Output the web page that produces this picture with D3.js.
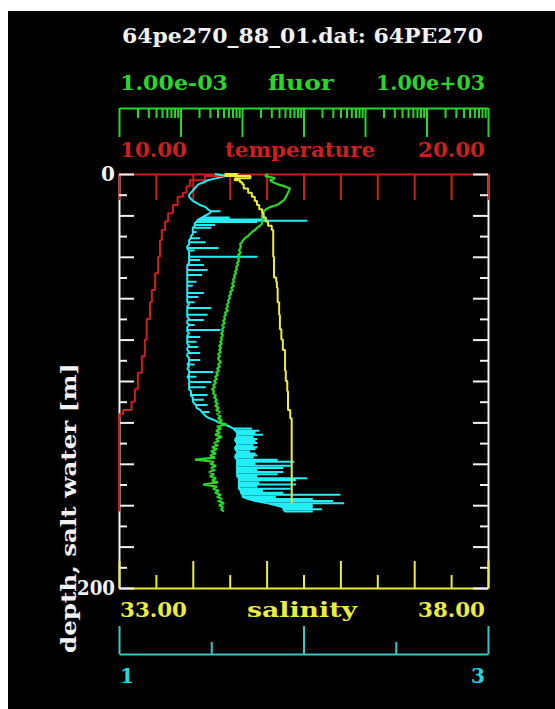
<!DOCTYPE html>
<html>
<head>
<meta charset="utf-8">
<script src="https://cdn.jsdelivr.net/npm/d3@7"></script>
<style>
  body { margin: 0; background: #fff; }
  svg text { font-family: "DejaVu Serif", serif; font-weight: bold; font-size: 20px; }
</style>
</head>
<body>
<div id="d3-container"></div>
<script>
// profile 64pe270_88_01: depth [m] against four sensors
const tempDepth  = [0,1,3,6,9,11,15,19,23,27,32,40,48,56,62,70,80,88,96,104,110,114,116,118,119,130,145,163];
const tempValues = [13.28,13.06,12.33,11.92,11.83,11.73,11.59,11.46,11.33,11.25,11.16,11.11,11.06,10.98,10.89,10.84,10.75,10.70,10.62,10.51,10.43,10.34,10.11,10.02,9.95,9.85,9.8,9.78];

const salDepth  = [0,1,2,3,4,5,7,9,11,13,15,17,19,21,23,25,27,28,40,50,52,55,62,68,75,80,85,95,100,105,114,118,119,159];
const salValues = [34.61,34.44,34.78,34.57,34.64,34.67,34.69,34.75,34.80,34.84,34.87,34.90,34.94,34.96,34.99,35.02,35.07,35.09,35.09,35.10,
                   35.13,35.14,35.15,35.17,35.18,35.20,35.22,35.25,35.26,35.28,35.29,35.32,35.34,35.34];

// 1 m bins for the two noisy sensors
const profileDepth = [
  0,1,2,3,4,5,6,7,8,9, 10,11,12,13,14,15,16,17,18,19, 20,21,22,23,24,25,26,27,28,29,
  30,31,32,33,34,35,36,37,38,39, 40,41,42,43,44,45,46,47,48,49, 50,51,52,53,54,55,56,57,58,59,
  60,61,62,63,64,65,66,67,68,69, 70,71,72,73,74,75,76,77,78,79, 80,81,82,83,84,85,86,87,88,89,
  90,91,92,93,94,95,96,97,98,99, 100,101,102,103,104,105,106,107,108,109, 110,111,112,113,114,115,116,117,118,119,
  120,121,122,123,124,125,126,127,128,129, 130,131,132,133,134,135,136,137,138,139,
  140,141,142,143,144,145,146,147,148,149, 150,151,152,153,154,155,156,157,158,159, 160,161,162,163
];

// cyan sensor: background trace plus the single-sample excursions
const cyanBase = [
  1.52,1.58,1.53,1.48,1.46,1.43,1.42,1.41,1.40,1.39,
  1.38,1.38,1.39,1.40,1.42,1.44,1.47,1.48,1.50,1.49,
  1.47,1.45,1.43,1.42,1.41,1.41,1.40,1.40,1.40,1.40,
  1.39,1.39,1.38,1.38,1.38,1.37,1.37,1.38,1.38,1.38,
  1.38,1.38,1.38,1.38,1.37,1.37,1.37,1.37,1.37,1.37,
  1.37,1.37,1.37,1.37,1.37,1.37,1.37,1.37,1.37,1.37,
  1.37,1.37,1.37,1.38,1.37,1.37,1.37,1.37,1.37,1.37,
  1.38,1.37,1.37,1.38,1.37,1.37,1.37,1.38,1.37,1.37,
  1.37,1.37,1.37,1.38,1.37,1.37,1.38,1.37,1.37,1.38,
  1.38,1.38,1.37,1.38,1.37,1.38,1.38,1.38,1.37,1.38,
  1.38,1.38,1.38,1.38,1.38,1.39,1.39,1.39,1.40,1.40,
  1.40,1.41,1.42,1.42,1.44,1.45,1.46,1.47,1.49,1.52,
  1.54,1.57,1.60,1.62,1.63,1.64,1.64,1.64,1.63,1.63,
  1.64,1.64,1.63,1.63,1.64,1.64,1.63,1.63,1.64,1.64,
  1.64,1.64,1.64,1.64,1.64,1.64,1.64,1.65,1.65,1.65,
  1.65,1.65,1.65,1.66,1.66,1.67,1.67,1.70,1.74,1.80,
  1.85,1.89,1.89,1.90
];
const cyanSpikeDepth = [
  18,21,22,22.6,23.2,24.6,26,28,31,33,35.7,37,40,41.5,44,46.4,48.8,52,54,57.5,59.4,62,64.7,68,70.5,73,75.4,
  78.7,81,83.6,86.5,89.9,92,95.7,98,100.5,103,106.8,109,111.6,115,
  123,124,125,126,127,128,129,130,131,132,133,134,135,136,137,138,139,140,141,142,143,
  144,145,146,147,148,149,150,151,152,153,154,155,156,157,158,159,160,161,162,163
];
const cyanSpikeValue = [
  1.55,1.60,1.79,2.02,1.75,1.52,1.50,1.42,1.44,1.47,1.54,1.41,1.75,1.44,1.46,1.48,1.45,1.42,1.40,1.46,1.43,1.41,1.50,1.48,1.46,1.41,1.55,
  1.44,1.42,1.43,1.44,1.44,1.41,1.51,1.42,1.50,1.47,1.48,1.46,1.48,1.49,
  1.72,1.76,1.74,1.78,1.73,1.75,1.74,1.75,1.73,1.75,1.74,1.71,1.74,1.75,1.73,1.86,1.95,1.74,1.94,1.89,1.75,
  1.89,1.86,1.75,2.02,1.96,1.76,1.96,1.75,1.93,1.78,1.89,2.20,1.85,2.05,2.16,2.22,2.05,2.05,2.10,2.05
];

const fluorValues = [
  .265,.237,.344,.285,.319,.385,.500,.603,.581,.560,
  .539,.519,.500,.464,.415,.371,.285,.246,.228,.219,
  .211,.211,.219,.211,.211,.196,.175,.163,.146,.135,
  .125,.112,.104,.100,.0928,.0963,.0928,.0894,.0963,.0861,
  .0928,.0861,.0894,.0829,.0861,.0799,.0829,.0770,.0799,.0741,
  .0770,.0714,.0741,.0688,.0741,.0663,.0714,.0638,.0663,.0615,
  .0638,.0592,.0615,.0570,.0592,.0549,.0592,.0529,.0549,.0510,
  .0529,.0491,.0529,.0473,.0510,.0473,.0491,.0456,.0491,.0456,
  .0473,.0439,.0473,.0423,.0456,.0423,.0456,.0407,.0439,.0407,
  .0423,.0456,.0407,.0439,.0392,.0423,.0378,.0407,.0364,.0392,
  .0351,.0378,.0338,.0364,.0325,.0351,.0338,.0378,.0351,.0392,
  .0364,.0407,.0364,.0423,.0378,.0439,.0392,.0456,.0407,.0473,
  .0407,.0570,.0392,.0456,.0378,.0439,.0364,.0473,.0378,.0423,
  .0351,.0407,.0325,.0392,.0313,.0378,.0302,.0364,.0172,.0351,
  .0302,.0378,.0313,.0364,.0291,.0351,.0302,.0378,.0325,.0407,
  .0232,.0392,.0338,.0423,.0364,.0456,.0392,.0473,.0407,.0510,
  .0423,.0491,.0456,.0510
];

// tick values
const depthMajor = [0,20,40,60,80,100,120,140,160,180,200];
const depthMinor = [10,30,50,70,90,110,130,150,170,190];
const tempTicks = [10,11,12,13,14,15,16,17,18,19,20];
const salMajor = [33,34,35,36,37,38];
const salMinor = [33.5,34.5,35.5,36.5,37.5];
const cyanMajor = [1,2,3];
const cyanMinor = [1.5,2.5];

const WHITE = '#f2f2f2', RED = '#cc1f1f', GREEN = '#2bd62b', YELLOW = '#ecec3c',
      CYAN = '#22eef5', CYAN_AXIS = '#3cc4c4', CYAN_TEXT = '#22d8e0';

const plotLeft = 119, plotRight = 488, plotTop = 174, plotBottom = 588;

const svg = d3.select('#d3-container')
  .append('svg')
  .attr('width', 555)
  .attr('height', 709);

svg.append('rect')
  .attr('x', 8).attr('y', 11)
  .attr('width', 547).attr('height', 698)
  .attr('fill', '#000');

const y = d3.scaleLinear().domain([0, 200]).range([plotTop, plotBottom]);
const xTemp = d3.scaleLinear().domain([10, 20]).range([plotLeft, plotRight]).clamp(true);
const xSal = d3.scaleLinear().domain([33, 38]).range([plotLeft, plotRight]);
const xCyan = d3.scaleLinear().domain([1, 3]).range([plotLeft, plotRight]);
const xFluor = d3.scaleLog().domain([1e-3, 1e3]).range([plotLeft, plotRight]);

function paint(g, color, keepDomain) {
  g.selectAll('text').remove();
  if (!keepDomain) g.select('.domain').remove();
  g.selectAll('path, line').attr('stroke', color).attr('stroke-width', 2);
  g.attr('fill', null).attr('font-size', null).attr('font-family', null);
}

function addText(str, x, yy, color, anchor, len) {
  const t = svg.append('text')
    .attr('x', x).attr('y', yy)
    .attr('fill', color)
    .attr('text-anchor', anchor || 'start')
    .text(str);
  if (len) t.attr('textLength', len).attr('lengthAdjust', 'spacingAndGlyphs');
  return t;
}

// white frame (vertical depth axes)
svg.append('g').attr('transform', `translate(${plotLeft},0)`)
  .call(d3.axisRight(y).tickValues([]).tickSizeOuter(0))
  .call(g => paint(g, WHITE, true));
svg.append('g').attr('transform', `translate(${plotRight},0)`)
  .call(d3.axisLeft(y).tickValues([]).tickSizeOuter(0))
  .call(g => paint(g, WHITE, true));

// fluor axis (log)
const decades = xFluor.ticks().filter(v => Math.abs(Math.log10(v) - Math.round(Math.log10(v))) < 1e-9);
const minors = xFluor.ticks().filter(v => !decades.includes(v));
svg.append('g').attr('transform', 'translate(0,108)')
  .call(d3.axisBottom(xFluor).tickValues(decades).tickSize(29).tickSizeOuter(0).tickFormat(''))
  .call(g => paint(g, GREEN, true));
svg.append('g').attr('transform', 'translate(0,108)')
  .call(d3.axisBottom(xFluor).tickValues(minors).tickSize(10).tickFormat(''))
  .call(g => paint(g, GREEN));

// temperature axis
svg.append('g').attr('transform', `translate(0,${plotTop})`)
  .call(d3.axisBottom(xTemp).tickValues(tempTicks).tickSize(26).tickSizeOuter(0).tickFormat(''))
  .call(g => paint(g, RED, true));

// salinity axis
svg.append('g').attr('transform', `translate(0,${plotBottom})`)
  .call(d3.axisTop(xSal).tickValues(salMajor).tickSize(27).tickSizeOuter(0).tickFormat(''))
  .call(g => paint(g, YELLOW, true));
svg.append('g').attr('transform', `translate(0,${plotBottom})`)
  .call(d3.axisTop(xSal).tickValues(salMinor).tickSize(13).tickFormat(''))
  .call(g => paint(g, YELLOW));

// cyan axis
svg.append('g').attr('transform', 'translate(0,654)')
  .call(d3.axisTop(xCyan).tickValues(cyanMajor).tickSize(28).tickSizeOuter(0).tickFormat(''))
  .call(g => paint(g, CYAN_AXIS, true));
svg.append('g').attr('transform', 'translate(0,654)')
  .call(d3.axisTop(xCyan).tickValues(cyanMinor).tickSize(12).tickFormat(''))
  .call(g => paint(g, CYAN_AXIS));

// white depth ticks on top
[[plotLeft, d3.axisRight], [plotRight, d3.axisLeft]].forEach(([px, ax]) => {
  svg.append('g').attr('transform', `translate(${px},0)`)
    .call(ax(y).tickValues(depthMajor).tickSize(15).tickFormat(''))
    .call(g => paint(g, WHITE));
  svg.append('g').attr('transform', `translate(${px},0)`)
    .call(ax(y).tickValues(depthMinor).tickSize(8).tickFormat(''))
    .call(g => paint(g, WHITE));
});

// profiles
function profile(pts, xs, color, width, curve) {
  const line = d3.line()
    .x(d => xs(d[0]))
    .y(d => y(d[1]))
    .curve(curve || d3.curveLinear);
  svg.append('path')
    .attr('d', line(pts))
    .attr('fill', 'none')
    .attr('stroke', color)
    .attr('stroke-width', width)
    .attr('stroke-linejoin', 'bevel');
}

const tempPts = tempDepth.map((d, i) => [tempValues[i], d]);
const salPts = salDepth.map((d, i) => [salValues[i], d]);
const fluorPts = profileDepth.map((d, i) => [fluorValues[i], d]);

// each excursion leaves the background trace and comes back at the same depth
const cyanPts = [];
profileDepth.forEach((d, i) => {
  cyanPts.push([cyanBase[i], d]);
  cyanSpikeDepth.forEach((sd, j) => {
    if (sd >= d && sd < d + 1) {
      const next = i + 1 < cyanBase.length ? cyanBase[i + 1] : cyanBase[i];
      const b = d3.interpolateNumber(cyanBase[i], next)(sd - d);
      cyanPts.push([b, sd], [cyanSpikeValue[j], sd], [b, sd]);
    }
  });
});

profile(tempPts, xTemp, RED, 2, d3.curveStepAfter);
profile(cyanPts, xCyan, CYAN, 2);
profile(fluorPts, xFluor, GREEN, 2.2);
profile(salPts, xSal, YELLOW, 2, d3.curveStepAfter);

// texts
addText('64pe270_88_01.dat: 64PE270', 122, 43, WHITE, 'start', 361);

addText('1.00e-03', 120, 90, GREEN, 'start', 108);
addText('fluor', 301, 90, GREEN, 'middle', 66);
addText('1.00e+03', 485, 90, GREEN, 'end', 109);

addText('10.00', 120, 157, RED, 'start', 67);
addText('temperature', 300, 157, RED, 'middle', 150);
addText('20.00', 485, 157, RED, 'end', 67);

addText('0', 115, y(0), WHITE, 'end').attr('dy', '0.35em');
addText('200', 115, y(200), WHITE, 'end', 38).attr('dy', '0.35em');

addText('33.00', 120, 617, YELLOW, 'start', 67);
addText('salinity', 302, 617, YELLOW, 'middle', 110);
addText('38.00', 485, 617, YELLOW, 'end', 67);

addText('1', 120, 683, CYAN_TEXT, 'start');
addText('3', 485, 683, CYAN_TEXT, 'end');

svg.append('text')
  .attr('transform', 'translate(76,508) rotate(-90)')
  .attr('text-anchor', 'middle')
  .attr('fill', WHITE)
  .attr('textLength', 290)
  .attr('lengthAdjust', 'spacingAndGlyphs')
  .text('depth, salt water [m]');
</script>
</body>
</html>
